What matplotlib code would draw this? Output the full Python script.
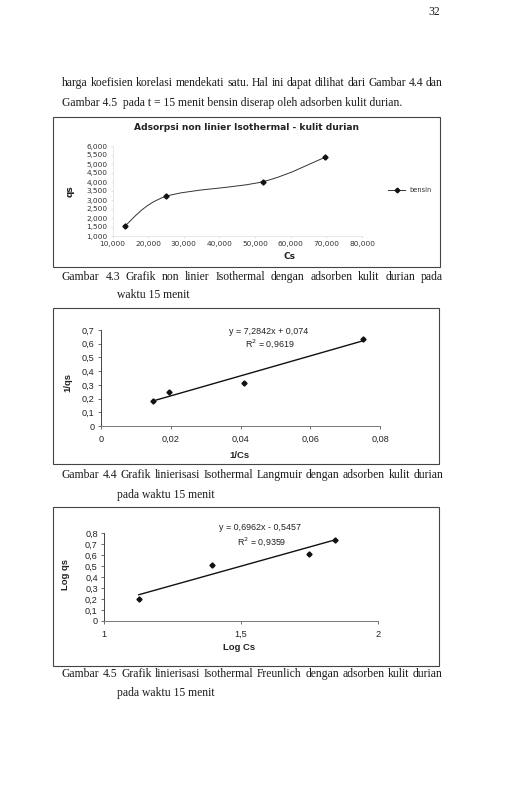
import matplotlib
matplotlib.use("Agg")
import matplotlib.pyplot as plt
from matplotlib.path import Path
from matplotlib.patches import PathPatch, Rectangle
from matplotlib.lines import Line2D
import numpy as np

W, H = 525, 785

# Gambar 4.3 - non linear isotherm
cs = [13.4, 25.0, 52.2, 69.7]
qs = [1.55, 3.20, 4.02, 5.38]
cs_ticks = [10, 20, 30, 40, 50, 60, 70, 80]
qs_ticks = [1, 1.5, 2, 2.5, 3, 3.5, 4, 4.5, 5, 5.5, 6]

# Gambar 4.4 - Langmuir
inv_cs = [0.0148, 0.0196, 0.0410, 0.0750]
inv_qs = [0.183, 0.248, 0.312, 0.633]
lang_slope, lang_icpt = 7.2842, 0.074

# Gambar 4.5 - Freundlich
log_cs = [1.127, 1.395, 1.749, 1.842]
log_qs = [0.197, 0.506, 0.612, 0.736]
freu_slope, freu_icpt = 0.6962, -0.5457

INK = "#1c1c1c"
SERIF = "Liberation Serif"
SANS = "Liberation Sans"


def fx(px):
    return px / W


def fy(py):
    return 1 - py / H


def comma(v, nd):
    return ("{:.%df}" % nd).format(v).replace(".", ",")


def justify(fig, text, x0, x1, y, size):
    r = fig.canvas.get_renderer()
    words = text.split()
    objs = [fig.text(0, 0, w, fontsize=size, family=SERIF, color=INK, va="center")
            for w in words]
    widths = [o.get_window_extent(r).width for o in objs]
    gap = (x1 - x0 - sum(widths)) / (len(words) - 1)
    x = x0
    for o, w in zip(objs, widths):
        o.set_position((fx(x), fy(y)))
        x += w + gap


def line(fig, text, x, y, size):
    fig.text(fx(x), fy(y), text, fontsize=size, family=SERIF, color=INK, va="center")


def frame(fig, x0, y0, x1, y1):
    fig.patches.append(Rectangle((fx(x0), fy(y1)), fx(x1 - x0), (y1 - y0) / H,
                                 transform=fig.transFigure, fill=False,
                                 edgecolor="#444444", linewidth=0.8))


def axes_px(fig, left, top, right, bottom):
    return fig.add_axes([fx(left), fy(bottom), fx(right - left), (bottom - top) / H])


def smooth_path(xs, ys):
    # excel style smoothed line (bezier through points)
    p = np.column_stack([xs, ys])
    pts = np.vstack([p[0], p, p[-1]])
    verts = [p[0]]
    codes = [Path.MOVETO]
    for i in range(1, len(pts) - 2):
        c1 = pts[i] + (pts[i + 1] - pts[i - 1]) / 6
        c2 = pts[i + 1] - (pts[i + 2] - pts[i]) / 6
        verts += [c1, c2, pts[i + 1]]
        codes += [Path.CURVE4] * 3
    return Path(verts, codes)


fig = plt.figure(figsize=(W / 100, H / 100), dpi=100)
fig.patch.set_facecolor("white")

BODY = 8.4
fig.text(fx(440), fy(12), "32", fontsize=BODY, family=SERIF, color=INK,
         ha="right", va="center")
justify(fig, "harga koefisien korelasi mendekati satu. Hal ini dapat dilihat dari Gambar 4.4 dan",
        62, 443, 83, BODY)
line(fig, "Gambar 4.5  pada t = 15 menit bensin diserap oleh adsorben kulit durian.", 62, 103, BODY)

# ---- chart 1
frame(fig, 53, 117, 440, 267)
ax1 = axes_px(fig, 112.5, 146, 362, 236)
ax1.add_patch(PathPatch(smooth_path(cs, qs), fill=False, edgecolor="#333333", linewidth=0.7))
ax1.plot(cs, qs, linestyle="none", marker="D", markersize=2.6, color="#111111")
ax1.set_xlim(10, 80)
ax1.set_ylim(1, 6)
ax1.set_xticks(cs_ticks)
ax1.set_yticks(qs_ticks)
ax1.set_xticklabels([comma(v, 3) for v in cs_ticks])
ax1.set_yticklabels([comma(v, 3) for v in qs_ticks])
for s in ax1.spines.values():
    s.set_visible(False)
ax1.spines["left"].set_visible(True)
ax1.spines["bottom"].set_visible(True)
ax1.spines["left"].set_color("#dddddd")
ax1.spines["bottom"].set_color("#dddddd")
ax1.spines["left"].set_linewidth(0.5)
ax1.spines["bottom"].set_linewidth(0.5)
ax1.tick_params(length=1.5, width=0.4, color="#cccccc", labelsize=5.3,
                labelcolor="#333333", pad=2)
for t in ax1.get_xticklabels() + ax1.get_yticklabels():
    t.set_family("DejaVu Sans")
ax1.patch.set_alpha(0)
fig.text(fx(247), fy(127), "Adsorpsi non linier Isothermal - kulit durian", fontsize=6.6,
         family="DejaVu Sans", weight="bold", color="#222222", ha="center", va="center")
fig.text(fx(290), fy(257), "Cs", fontsize=6.5, family="DejaVu Sans", weight="bold",
         color="#222222", ha="center", va="center")
fig.text(fx(70), fy(191), "qs", fontsize=6.5, family="DejaVu Sans", weight="bold",
         color="#222222", ha="center", va="center", rotation=90)
fig.lines.append(Line2D([fx(388), fx(405)], [fy(190), fy(190)], transform=fig.transFigure,
                        color="#333333", linewidth=0.7))
fig.lines.append(Line2D([fx(397)], [fy(190)], transform=fig.transFigure, color="#111111",
                        marker="D", markersize=2.4, linestyle="none"))
fig.text(fx(409), fy(190), "bensin", fontsize=4.8, family="DejaVu Sans", color="#333333",
         va="center")

justify(fig, "Gambar 4.3 Grafik non linier Isothermal dengan adsorben kulit durian pada",
        62, 443, 277, BODY)
line(fig, "waktu 15 menit", 117, 295, BODY)


def linear_chart(ax, xs, ys, slope, icpt, xt, yt, xnd, ynd):
    xr = np.array([min(xs), max(xs)])
    ax.plot(xr, slope * xr + icpt, color="#111111", linewidth=1.0)
    ax.plot(xs, ys, linestyle="none", marker="D", markersize=2.6, color="#111111")
    ax.set_xlim(xt[0], xt[-1])
    ax.set_ylim(yt[0], yt[-1])
    ax.set_xticks(xt)
    ax.set_yticks(yt)
    ax.set_xticklabels(["0" if v == 0 else (comma(v, xnd) if v != int(v) else str(int(v)))
                        for v in xt])
    ax.set_yticklabels(["0" if v == 0 else comma(v, ynd) for v in yt])
    ax.spines["top"].set_visible(False)
    ax.spines["right"].set_visible(False)
    ax.spines["left"].set_color("#444444")
    ax.spines["bottom"].set_color("#777777")
    ax.spines["left"].set_linewidth(0.7)
    ax.spines["bottom"].set_linewidth(0.7)
    ax.tick_params(direction="out", length=2.5, width=0.6, color="#555555",
                   labelsize=6.6, labelcolor="#222222", pad=2)
    ax.tick_params(axis="x", pad=4)
    for t in ax.get_xticklabels() + ax.get_yticklabels():
        t.set_family(SANS)
    ax.patch.set_alpha(0)


# ---- chart 2
frame(fig, 53, 308, 439, 464)
ax2 = axes_px(fig, 101, 330, 380, 426)
linear_chart(ax2, inv_cs, inv_qs, lang_slope, lang_icpt,
             [0, 0.02, 0.04, 0.06, 0.08], [0, 0.1, 0.2, 0.3, 0.4, 0.5, 0.6, 0.7], 2, 1)
fig.text(fx(269), fy(331), "y = " + comma(lang_slope, 4) + "x + " + comma(lang_icpt, 3),
         fontsize=6.4, family=SANS, color="#222222", ha="center", va="center")
fig.text(fx(270), fy(344), "R$^2$ = 0,9619", fontsize=6.4, family=SANS, color="#222222",
         ha="center", va="center")
fig.text(fx(239), fy(455), "1/Cs", fontsize=6.8, family=SANS, weight="bold",
         color="#222222", ha="center", va="center")
fig.text(fx(68), fy(382), "1/qs", fontsize=6.8, family=SANS, weight="bold",
         color="#222222", ha="center", va="center", rotation=90)

justify(fig, "Gambar 4.4 Grafik linierisasi Isothermal Langmuir dengan adsorben kulit durian",
        62, 443, 475, BODY)
line(fig, "pada waktu 15 menit", 117, 495, BODY)

# ---- chart 3
frame(fig, 53, 507, 439, 666)
ax3 = axes_px(fig, 104, 533, 378, 621)
linear_chart(ax3, log_cs, log_qs, freu_slope, freu_icpt,
             [1, 1.5, 2], [0, 0.1, 0.2, 0.3, 0.4, 0.5, 0.6, 0.7, 0.8], 1, 1)
fig.text(fx(260), fy(528), "y = " + comma(freu_slope, 4) + "x - " + comma(-freu_icpt, 4),
         fontsize=6.4, family=SANS, color="#222222", ha="center", va="center")
fig.text(fx(262), fy(542), "R$^2$ = 0,9359", fontsize=6.4, family=SANS, color="#222222",
         ha="center", va="center")
fig.text(fx(239), fy(647), "Log Cs", fontsize=6.8, family=SANS, weight="bold",
         color="#222222", ha="center", va="center")
fig.text(fx(65), fy(575), "Log qs", fontsize=6.8, family=SANS, weight="bold",
         color="#222222", ha="center", va="center", rotation=90)

justify(fig, "Gambar 4.5 Grafik linierisasi Isothermal Freunlich dengan adsorben kulit durian",
        62, 443, 674, BODY)
line(fig, "pada waktu 15 menit", 117, 693, BODY)

fig.savefig("out.png", dpi=100, facecolor="white")
